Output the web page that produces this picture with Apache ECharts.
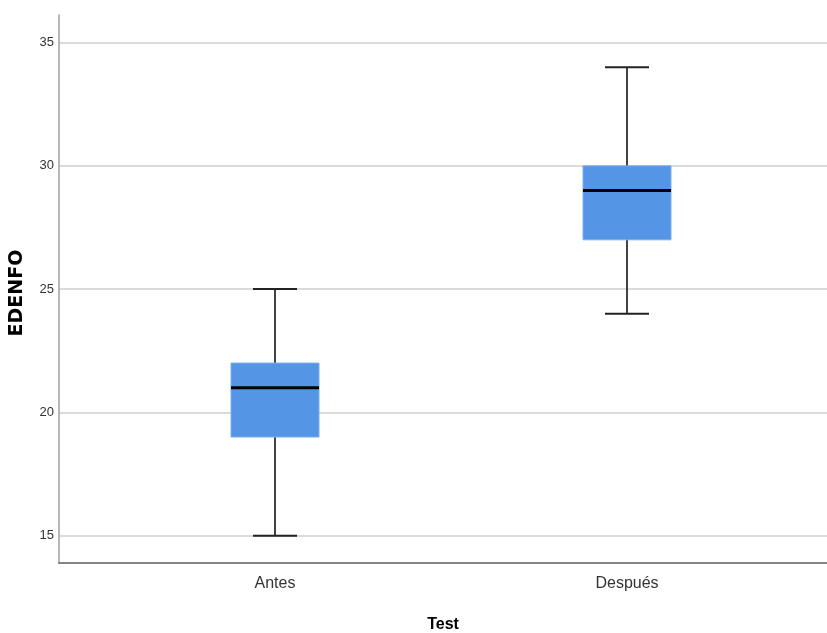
<!DOCTYPE html>
<html>
<head>
<meta charset="utf-8">
<style>
html, body { margin: 0; padding: 0; background: #ffffff; }
#chart { width: 827px; height: 633px; }
</style>
<script src="https://cdn.jsdelivr.net/npm/echarts@6/dist/echarts.min.js"></script>
</head>
<body>
<div id="chart"></div>
<script>
const categories = ['Antes', 'Después'];
const minValues = [15, 24];
const q1Values = [19, 27];
const medianValues = [21, 29];
const q3Values = [22, 30];
const maxValues = [25, 34];
const yTicks = [15, 20, 25, 30, 35];
const xTitle = 'Test';
const yTitle = 'EDENFO';

const sans = "'Liberation Sans', Arial, sans-serif";
const yMin = 13.89, yMax = 36.12;

const boxData = categories.map((c, i) => [i, minValues[i], q1Values[i], medianValues[i], q3Values[i], maxValues[i]]);

const chart = echarts.init(document.getElementById('chart'), null, { renderer: 'canvas' });
chart.setOption({
  backgroundColor: '#ffffff',
  animation: false,
  grid: [
    { left: 59, right: 0, top: 15, bottom: 70, outerBoundsMode: 'none', containLabel: false },
    { left: 99, right: 24, top: 15, bottom: 70, outerBoundsMode: 'none', containLabel: false }
  ],
  xAxis: [
    {
      gridIndex: 0, type: 'value', min: 0, max: 1,
      axisLine: { show: true, lineStyle: { color: '#5e5e5e', width: 1.5 } },
      axisTick: { show: false }, axisLabel: { show: false }, splitLine: { show: false },
      name: xTitle, nameLocation: 'middle', nameGap: 54,
      nameTextStyle: { fontFamily: sans, fontWeight: 'bold', fontSize: 16, color: '#000000' }
    },
    {
      gridIndex: 1, type: 'category', data: categories, boundaryGap: true,
      axisLine: { show: false }, axisTick: { show: false }, splitLine: { show: false },
      axisLabel: { margin: 13, fontFamily: sans, fontSize: 16, color: '#333333' }
    }
  ],
  yAxis: [
    {
      gridIndex: 0, type: 'value', min: yMin, max: yMax,
      axisLine: { show: true, lineStyle: { color: '#a0a0a0', width: 1.5 } },
      axisTick: { show: false, customValues: yTicks },
      axisLabel: { customValues: yTicks, margin: 5, fontFamily: sans, fontSize: 13, color: '#333333' },
      splitLine: { show: true, lineStyle: { color: '#cfcfcf', width: 1.5 } },
      name: yTitle, nameLocation: 'middle', nameGap: 32, nameRotate: 90,
      nameTextStyle: { fontFamily: "'DejaVu Sans', sans-serif", fontWeight: 'bold', fontSize: 19, color: '#000000', padding: [0, 8, 0, 0] }
    },
    {
      gridIndex: 1, type: 'value', min: yMin, max: yMax, show: false,
      splitLine: { show: false }
    }
  ],
  series: [
    {
      type: 'custom',
      xAxisIndex: 1, yAxisIndex: 1,
      encode: { x: 0, y: [1, 2, 3, 4, 5] },
      data: boxData,
      renderItem: function (params, api) {
        const idx = api.value(0);
        const band = api.size([1, 0])[0];
        const boxW = band * 0.25;
        const capW = band * 0.125;
        const x = api.coord([idx, api.value(3)])[0];
        const yLo = api.coord([idx, api.value(1)])[1];
        const yQ1 = api.coord([idx, api.value(2)])[1];
        const yMed = api.coord([idx, api.value(3)])[1];
        const yQ3 = api.coord([idx, api.value(4)])[1];
        const yHi = api.coord([idx, api.value(5)])[1];
        const whisker = { stroke: '#222222', lineWidth: 1.7 };
        return {
          type: 'group',
          children: [
            { type: 'line', shape: { x1: x, y1: yHi, x2: x, y2: yLo }, style: whisker },
            { type: 'line', shape: { x1: x - capW / 2, y1: yHi, x2: x + capW / 2, y2: yHi }, style: { stroke: '#222222', lineWidth: 2 } },
            { type: 'line', shape: { x1: x - capW / 2, y1: yLo, x2: x + capW / 2, y2: yLo }, style: { stroke: '#222222', lineWidth: 2 } },
            { type: 'rect', shape: { x: x - boxW / 2, y: yQ3, width: boxW, height: yQ1 - yQ3 }, style: { fill: '#5495e5', stroke: '#7aaeee', lineWidth: 1 } },
            { type: 'line', shape: { x1: x - boxW / 2, y1: yMed, x2: x + boxW / 2, y2: yMed }, style: { stroke: '#000000', lineWidth: 3 } }
          ]
        };
      }
    }
  ]
});
</script>
</body>
</html>
